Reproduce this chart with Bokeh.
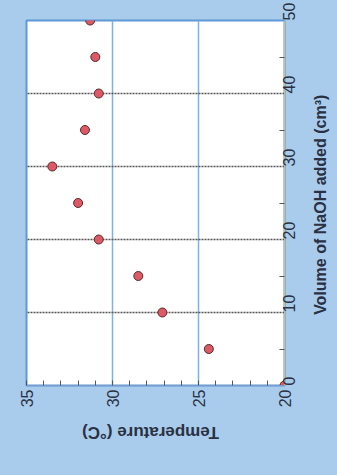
import math
from bokeh.plotting import figure
from bokeh.models import Range1d, FixedTicker, ColumnDataSource
from bokeh.layouts import column, row
from bokeh.core.properties import value
from bokeh.embed import file_html
from bokeh.resources import INLINE

# Data (volume of NaOH in cm3, temperature in °C)
volume = [0, 5, 10, 15, 20, 25, 30, 35, 40, 45, 50]
temperature = [20.0, 24.4, 27.1, 28.5, 30.8, 32.0, 33.5, 31.6, 30.8, 31.0, 31.3]
temp_ticks = [20, 25, 30, 35]
vol_ticks = [0, 10, 20, 30, 40, 50]
x_title = "Temperature (°C)"
y_title = "Volume of NaOH added (cm³)"

BG = "#a9cced"
TXT = "#2a3142"
FONT = "Liberation Sans"

TW, TH = 330, 467
PW, PH = 308, 410
p = figure(width=PW, height=PH, output_backend="svg", toolbar_location=None,
           x_range=Range1d(35, 20), y_range=Range1d(0, 50),
           x_axis_location="below", y_axis_location="right",
           background_fill_color="white", border_fill_color=BG,
           min_border_left=26, min_border_top=20, min_border_right=24, min_border_bottom=24)
p.outline_line_color = "#5f98d6"
p.outline_line_width = 2

xa = p.xaxis[0]
xa.ticker = FixedTicker(ticks=temp_ticks, minor_ticks=list(range(20, 36)))
xa.axis_line_color = "#7a9ad0"
xa.major_label_standoff = 4

ya = p.yaxis[0]
ya.ticker = FixedTicker(ticks=vol_ticks, minor_ticks=[5, 15, 25, 35, 45])
ya.axis_line_color = "#c9c27a"
ya.major_label_standoff = 4

for ax in (xa, ya):
    ax.major_label_orientation = math.pi / 2
    ax.major_tick_out = 0
    ax.major_tick_in = 0
    ax.minor_tick_in = 5
    ax.minor_tick_out = 0
    ax.minor_tick_line_color = "#555555"
    ax.major_label_text_font = FONT
    ax.major_label_text_font_size = "16px"
    ax.major_label_text_color = TXT

p.xgrid.ticker = FixedTicker(ticks=[25, 30])
p.xgrid.grid_line_color = "#7fb0e3"
p.xgrid.grid_line_width = 1.5
p.ygrid.ticker = FixedTicker(ticks=[10, 20, 30, 40])
p.ygrid.grid_line_color = "#555555"
p.ygrid.grid_line_width = 1.5
p.ygrid.grid_line_dash = "2 1"

src = ColumnDataSource(dict(t=temperature, v=volume))
p.scatter("t", "v", source=src, size=9, fill_color="#dc5a66", line_color="#5a2a2a", line_width=1)


def blank(w, h):
    f = figure(width=w, height=h, output_backend="svg", toolbar_location=None,
               x_range=Range1d(0, w), y_range=Range1d(0, h),
               min_border=0, background_fill_color=BG, border_fill_color=BG)
    f.axis.visible = False
    f.grid.visible = False
    f.outline_line_color = None
    return f


RW = TW - PW
r = blank(RW, PH)
r.text(x=[RW / 2 + 1], y=[PH - 207], text=[y_title], angle=math.pi / 2,
       text_align="center", text_baseline="middle", text_font=value(FONT),
       text_font_style="bold", text_font_size="16px", text_color=TXT)

BH = TH - PH
b = blank(TW, BH)
b.text(x=[150], y=[BH - 22], text=[x_title], angle=math.pi,
       text_align="center", text_baseline="middle", text_font=value(FONT),
       text_font_style="bold", text_font_size="17px", text_color=TXT)

layout = column(row(p, r, spacing=0), b, spacing=0)

html = file_html(layout, INLINE)
html = html.replace("</head>", "<style>html, body { background-color: %s !important; }</style>\n</head>" % BG, 1)
open("out.html", "w").write(html)
